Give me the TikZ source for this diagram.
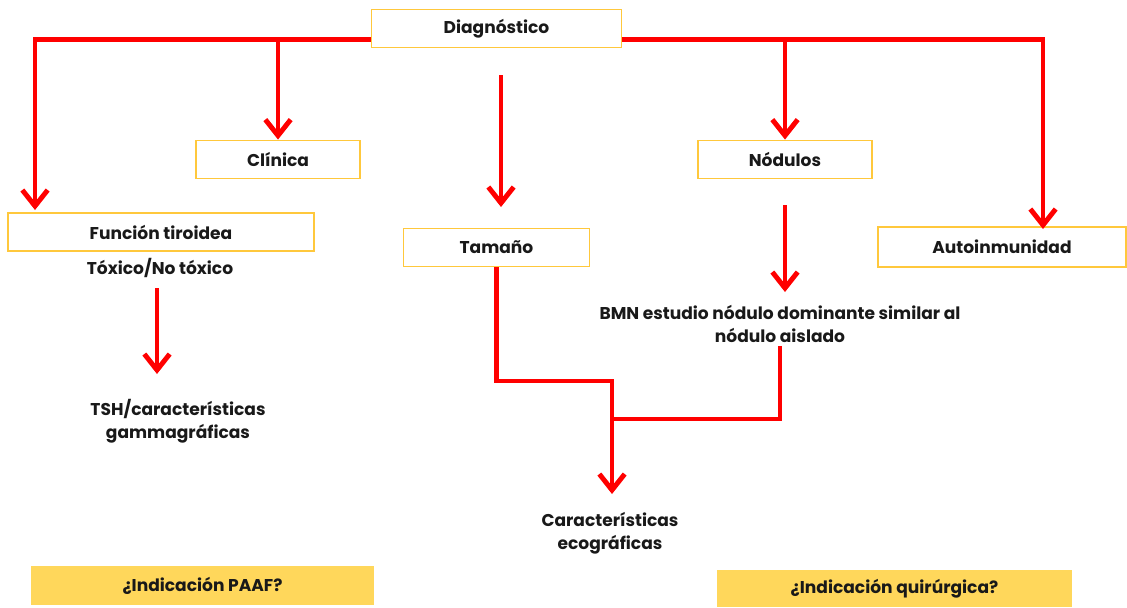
\documentclass[tikz,border=0pt]{standalone}
\usepackage{fontspec}
\setmainfont{Poppins}
\usetikzlibrary{arrows.meta}
\definecolor{rojo}{HTML}{FF0000}
\definecolor{borde}{HTML}{FFC83C}
\definecolor{relleno}{HTML}{FFD75B}
\begin{document}
\begin{tikzpicture}[
	x=0.75pt, y=-0.75pt, line join=miter,
	every node/.style={font=\fontsize{12.8}{17.5}\selectfont\bfseries, text=black!90},
	caja/.style={draw=borde, line width=0.9pt, inner sep=0pt},
	pregunta/.style={fill=relleno, inner sep=0pt},
	nota/.style={align=center, inner sep=0pt},
	linea/.style={draw=rojo, line width=3.7pt},
	flecha/.style={linea, -{Straight Barb[length=12pt,width=19pt]}}
	]
	\useasboundingbox (0,0) rectangle (1127,607);
	
	% 1. CAJAS
	\node[caja, minimum width=188pt, minimum height=28pt] (diag) at (496.5,28.5) {Diagnóstico};
	\node[caja, minimum width=123pt, minimum height=29pt] (clin) at (278,159.5) {Clínica};
	\node[caja, minimum width=229.5pt, minimum height=28.5pt] (func) at (161,232) {Función tiroidea};
	\node[caja, minimum width=139pt, minimum height=29pt] (tam) at (496.5,247.5) {Tamaño};
	\node[caja, minimum width=130.5pt, minimum height=29pt] (nod) at (785,159.5) {Nódulos};
	\node[caja, minimum width=186pt, minimum height=30pt] (autoin) at (1002,247) {Autoinmunidad};
	
	% 2. TEXTOS SUELTOS
	\node[nota] (tox) at (160,268) {Tóxico/No tóxico};
	\node[nota] (tsh) at (178,421) {TSH/características\\gammagráficas};
	\node[nota] (bmn) at (780,324) {BMN estudio nódulo dominante similar al\\nódulo aislado};
	\node[nota] (eco) at (610,533) {Características\\ecográficas};
	
	% 3. PREGUNTAS FINALES
	\node[pregunta, minimum width=257pt, minimum height=29pt] (paaf) at (202.5,585.5) {¿Indicación PAAF?};
	\node[pregunta, minimum width=266pt, minimum height=28pt] (quir) at (894.5,588.5) {¿Indicación quirúrgica?};
	
	% 4. PUNTOS AUXILIARES
	\coordinate (sdiag) at ([yshift=-8pt]diag.west);
	\coordinate (ediag) at ([yshift=-8pt]diag.east);
	\coordinate (pfunc) at (35,210);
	\coordinate (itam) at (501,75);
	\coordinate (ptam) at (501,207);
	\coordinate (pauto) at (1043,229);
	\coordinate (inod) at (785,205);
	\coordinate (pbmn) at (785,292);
	\coordinate (itox) at (157,288);
	\coordinate (ptsh) at (157,374);
	\coordinate (codo) at (612,381);
	\coordinate (union) at (612,419);
	\coordinate (peco) at (612,494);
	
	% 5. FLECHAS
	\draw[flecha] (sdiag) -| (pfunc);
	\draw[flecha] (sdiag) -| (clin.north);
	\draw[flecha] (itam) -- (ptam);
	\draw[flecha] (ediag) -| (nod.north);
	\draw[flecha] (ediag) -| (pauto);
	\draw[flecha] (inod) -- (pbmn);
	\draw[flecha] (itox) -- (ptsh);
	\draw[linea] ([yshift=-2pt]bmn.south) |- (union);
	\draw[flecha] (tam.south) |- (codo) -- (peco);
	
\end{tikzpicture}
\end{document}
